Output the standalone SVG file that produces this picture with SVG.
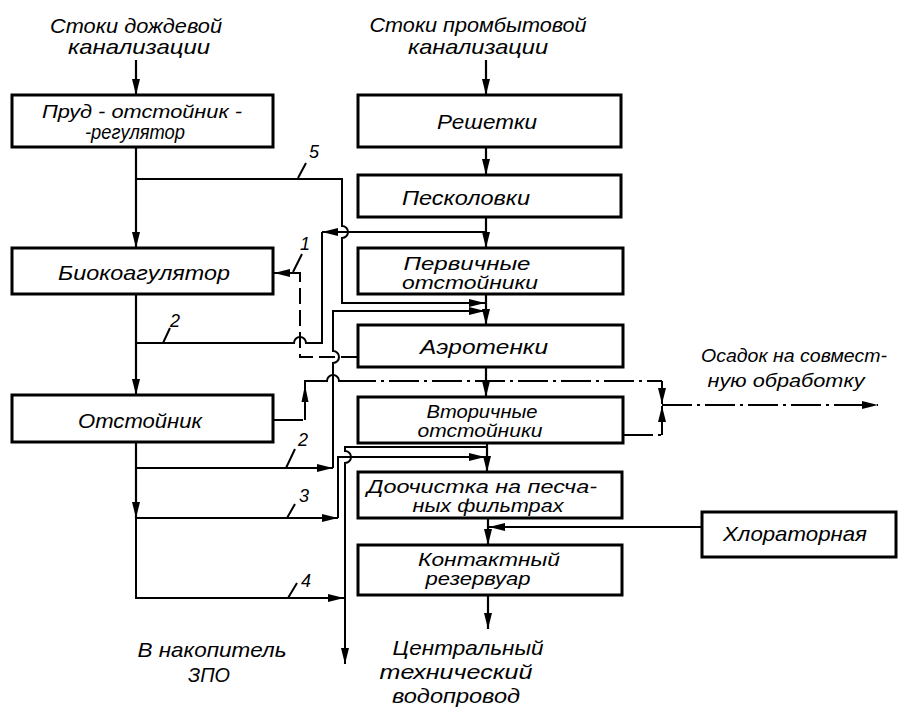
<svg xmlns="http://www.w3.org/2000/svg" width="898" height="709" viewBox="0 0 898 709">
<defs>
<marker id="ah" viewBox="0 0 16 8" refX="16" refY="4" markerWidth="16" markerHeight="8" markerUnits="userSpaceOnUse" orient="auto">
<path d="M0,0 L16,4 L0,8 z" fill="#000"/>
</marker>
<style>
.box{fill:#fff;stroke:#000;stroke-width:3}
.ln{fill:none;stroke:#000;stroke-width:2}
.ax{fill:none;stroke:#000;stroke-width:2.2}
.dd{stroke-dasharray:30 5 3 5}
.ds{stroke-dasharray:16 6}
text{font-family:"Liberation Sans","DejaVu Sans",sans-serif;font-style:italic;font-size:21px;fill:#000;text-anchor:middle}
.two{font-size:18px}
.num{font-size:18px}
.sm{font-size:19px}
</style>
</defs>
<rect width="898" height="709" fill="#fff"/>

<g id="connectors">
<path class="ax" d="M136,60 V95" marker-end="url(#ah)"/>
<path class="ax" d="M486,60 V95" marker-end="url(#ah)"/>
<path class="ax" d="M486,147 V175" marker-end="url(#ah)"/>
<path class="ax" d="M486,217 V248" marker-end="url(#ah)"/>
<path class="ax" d="M486,294 V325" marker-end="url(#ah)"/>
<path class="ax" d="M486,367 V397" marker-end="url(#ah)"/>
<path class="ax" d="M487,443 V472" marker-end="url(#ah)"/>
<path class="ax" d="M488,518 V545" marker-end="url(#ah)"/>
<path class="ax" d="M488,595 V629" marker-end="url(#ah)"/>
<path class="ax" d="M136,147 V248" marker-end="url(#ah)"/>
<path class="ax" d="M136,294 V395" marker-end="url(#ah)"/>
<path class="ax" d="M136,442 V518" marker-end="url(#ah)"/>
<path class="ln" d="M136,518 V598 H344" marker-end="url(#ah)"/>
<path class="ln" d="M136,179 H342 V226 A6,6 0 0 1 342,238 V303 H485" marker-end="url(#ah)"/>
<path class="ln" d="M486,232 H322" marker-end="url(#ah)"/>
<path class="ln" d="M322,232 V343 H306 A6,6 0 0 0 294,343 H136"/>
<path class="ln ds" d="M357,357 H300 V281"/>
<path class="ln" d="M300,281 V273 H274" marker-end="url(#ah)"/>
<path class="ln" d="M136,468 H333" marker-end="url(#ah)"/>
<path class="ln" d="M333,468 V363 A6,6 0 0 0 333,351 V311 H485" marker-end="url(#ah)"/>
<path class="ln" d="M136,518 H338" marker-end="url(#ah)"/>
<path class="ln" d="M338,518 V457 H485" marker-end="url(#ah)"/>
<path class="ln" d="M487,447 H345 V451 A6,6 0 0 1 345,463 V664" marker-end="url(#ah)"/>
<path class="ln" d="M702,527 H489" marker-end="url(#ah)"/>
<path class="ln dd" d="M273,420 H305"/>
<path class="ln" d="M305,420 V381 H327 A6,6 0 0 1 339,381 H346"/>
<polygon points="305,385 301.5,402 308.5,402" fill="#000"/>
<path class="ln dd" d="M346,381 H662"/>
<path class="ln" d="M662,381 V404" marker-end="url(#ah)"/>
<path class="ln dd" d="M623,435 H662"/>
<path class="ln" d="M662,435 V406" marker-end="url(#ah)"/>
<path class="ln dd" d="M662,405 H878" marker-end="url(#ah)"/>
<path class="ln" d="M298,178 L306,163 M163,343 L170,328 M293,272 L302,254 M286,468 L295,449 M287,518 L295,504 M288,598 L297,583" stroke-width="1.5"/>
</g>

<g id="labels">
<text x="136" y="33" textLength="172" lengthAdjust="spacingAndGlyphs">Стоки дождевой</text>
<text x="139" y="54" textLength="142" lengthAdjust="spacingAndGlyphs">канализации</text>
<text x="478" y="32" textLength="217" lengthAdjust="spacingAndGlyphs">Стоки промбытовой</text>
<text x="478" y="54" textLength="140" lengthAdjust="spacingAndGlyphs">канализации</text>
<text class="sm" x="794" y="362" textLength="186" lengthAdjust="spacingAndGlyphs">Осадок на совмест-</text>
<text class="sm" x="786" y="387" textLength="157" lengthAdjust="spacingAndGlyphs">ную обработку</text>
<text x="212" y="657" textLength="149" lengthAdjust="spacingAndGlyphs">В накопитель</text>
<text x="209" y="682" textLength="42" lengthAdjust="spacingAndGlyphs">ЗПО</text>
<text x="468" y="655" textLength="151" lengthAdjust="spacingAndGlyphs">Центральный</text>
<text x="456" y="679" textLength="153" lengthAdjust="spacingAndGlyphs">технический</text>
<text x="456" y="703" textLength="128" lengthAdjust="spacingAndGlyphs">водопровод</text>
<text class="num" x="314" y="158">5</text>
<text class="num" x="175" y="327">2</text>
<text class="num" x="305" y="250">1</text>
<text class="num" x="303" y="446">2</text>
<text class="num" x="304" y="502">3</text>
<text class="num" x="306" y="587">4</text>
</g>

<g id="n-prud">
<rect class="box" x="12" y="95" width="261" height="52"/>
<text class="two" x="142" y="118" textLength="200" lengthAdjust="spacingAndGlyphs">Пруд - отстойник -</text>
<text class="two" x="135" y="139" textLength="100" lengthAdjust="spacingAndGlyphs" style="font-size:20px">-регулятор</text>
</g>
<g id="n-bio">
<rect class="box" x="12" y="248" width="261" height="46"/>
<text x="144" y="280" textLength="172" lengthAdjust="spacingAndGlyphs">Биокоагулятор</text>
</g>
<g id="n-otst">
<rect class="box" x="12" y="395" width="261" height="47"/>
<text x="140" y="428" textLength="124" lengthAdjust="spacingAndGlyphs">Отстойник</text>
</g>
<g id="n-resh">
<rect class="box" x="358" y="95" width="263" height="52"/>
<text x="487" y="129" textLength="100" lengthAdjust="spacingAndGlyphs">Решетки</text>
</g>
<g id="n-pesk">
<rect class="box" x="358" y="175" width="263" height="42"/>
<text x="466" y="205" textLength="128" lengthAdjust="spacingAndGlyphs">Песколовки</text>
</g>
<g id="n-perv">
<rect class="box" x="358" y="248" width="265" height="46"/>
<text class="two" x="467" y="270" textLength="127" lengthAdjust="spacingAndGlyphs">Первичные</text>
<text class="two" x="470" y="289" textLength="136" lengthAdjust="spacingAndGlyphs">отстойники</text>
</g>
<g id="n-aero">
<rect class="box" x="358" y="325" width="265" height="42"/>
<text x="484" y="354" textLength="128" lengthAdjust="spacingAndGlyphs">Аэротенки</text>
</g>
<g id="n-vtor">
<rect class="box" x="358" y="397" width="265" height="46"/>
<text class="two" x="482" y="418" textLength="111" lengthAdjust="spacingAndGlyphs">Вторичные</text>
<text class="two" x="480" y="437" textLength="125" lengthAdjust="spacingAndGlyphs">отстойники</text>
</g>
<g id="n-dooch">
<rect class="box" x="358" y="472" width="264" height="46"/>
<text class="two" x="482" y="493" textLength="230" lengthAdjust="spacingAndGlyphs">Доочистка на песча-</text>
<text class="two" x="488" y="512" textLength="151" lengthAdjust="spacingAndGlyphs">ных фильтрах</text>
</g>
<g id="n-kont">
<rect class="box" x="358" y="545" width="264" height="50"/>
<text class="two" x="489" y="566" textLength="142" lengthAdjust="spacingAndGlyphs">Контактный</text>
<text class="two" x="478" y="585" textLength="105" lengthAdjust="spacingAndGlyphs">резервуар</text>
</g>
<g id="n-chlor">
<rect class="box" x="702" y="512" width="194" height="45"/>
<text x="795" y="541" textLength="144" lengthAdjust="spacingAndGlyphs">Хлораторная</text>
</g>
</svg>
